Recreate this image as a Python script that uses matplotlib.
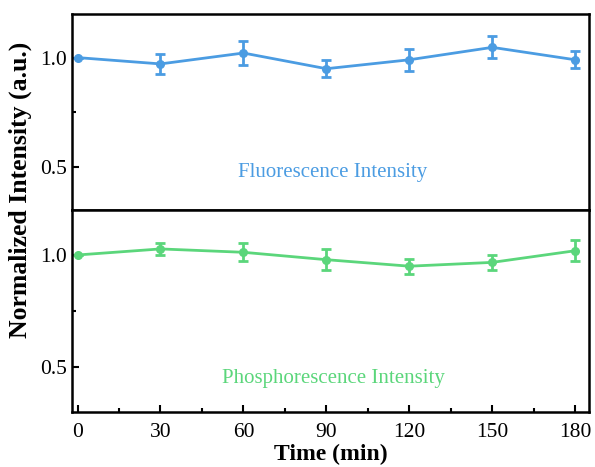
import numpy as np
import matplotlib.pyplot as plt
from matplotlib.ticker import MultipleLocator

plt.rcParams['font.family'] = ['Liberation Serif', 'DejaVu Serif']

# data
time = [0, 30, 60, 90, 120, 150, 180]
fluo = [1.00, 0.971, 1.021, 0.949, 0.99, 1.047, 0.99]
fluo_err = [0.0, 0.047, 0.053, 0.04, 0.05, 0.05, 0.038]
phos = [1.00, 1.027, 1.012, 0.979, 0.95, 0.967, 1.019]
phos_err = [0.0, 0.028, 0.04, 0.048, 0.033, 0.033, 0.048]

blue = '#4b9ce2'
green = '#5bd67b'

fig = plt.figure(figsize=(5.95, 4.67), dpi=100)
ax1 = fig.add_axes([0.121, 0.550, 0.869, 0.420])
ax2 = fig.add_axes([0.121, 0.118, 0.869, 0.432], sharex=ax1)

for ax, y, e, c, label, ty in [(ax1, fluo, fluo_err, blue, 'Fluorescence Intensity', 0.194),
                               (ax2, phos, phos_err, green, 'Phosphorescence Intensity', 0.168)]:
    ax.errorbar(time, y, yerr=e, color=c, marker='o', markersize=5.5,
                linewidth=2, elinewidth=2, capsize=3.5, capthick=2)
    ax.set_ylim(0.3, 1.2)
    ax.set_xlim(-2, 185)
    ax.yaxis.set_major_locator(MultipleLocator(0.5))
    ax.yaxis.set_minor_locator(MultipleLocator(0.25))
    ax.xaxis.set_major_locator(MultipleLocator(30))
    ax.xaxis.set_minor_locator(MultipleLocator(15))
    ax.tick_params(which='both', direction='in', labelsize=15.5, width=1.5)
    ax.tick_params(which='major', length=5)
    ax.tick_params(which='minor', length=3)
    for s in ax.spines.values():
        s.set_linewidth(1.8)
    ax.text(0.505, ty, label, transform=ax.transAxes, color=c,
            fontsize=15, ha='center', va='center')

ax1.tick_params(axis='x', which='both', bottom=False, labelbottom=False)
ax2.tick_params(axis='x', pad=8)
ax2.set_xlabel('Time (min)', fontsize=17, fontweight='bold', labelpad=1)
fig.text(0.034, 0.593, 'Normalized Intensity (a.u.)', rotation=90,
         fontsize=18.5, fontweight='bold', ha='center', va='center')

fig.savefig('out.png', dpi=100)
